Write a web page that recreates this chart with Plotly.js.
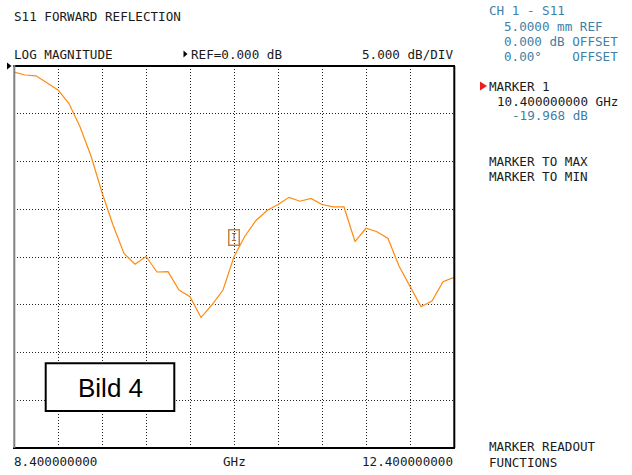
<!DOCTYPE html>
<html>
<head>
<meta charset="utf-8">
<script src="https://cdn.plot.ly/plotly-3.0.1.min.js"></script>
<style>html,body{margin:0;padding:0;background:#fff;}#chart{width:632px;height:475px;}</style>
</head>
<body>
<div id="chart"></div>
<script>
// ---- data ----
var freqGHz = [8.4, 8.5, 8.6, 8.7, 8.8, 8.9, 9.0, 9.1, 9.2, 9.3,
               9.4, 9.5, 9.6, 9.7, 9.8, 9.9, 10.0, 10.1, 10.2, 10.3,
               10.4, 10.5, 10.6, 10.7, 10.8, 10.9, 11.0, 11.1, 11.2, 11.3,
               11.4, 11.5, 11.6, 11.7, 11.8, 11.9, 12.0, 12.1, 12.2, 12.3, 12.4];
var s11dB = [-0.63, -0.94, -1.03, -1.78, -2.51, -3.93, -6.36, -9.42, -13.25, -16.65,
             -19.63, -20.76, -19.95, -21.57, -21.54, -23.46, -24.16, -26.34, -25.0, -23.46,
             -19.968, -17.8, -16.18, -15.13, -14.50, -13.75, -14.16, -13.87, -14.50, -14.76,
             -14.76, -18.38, -16.99, -17.35, -18.06, -20.94, -23.11, -25.2, -24.61, -22.59, -22.13];
var markerFreq = 10.4;
var markerDb = -19.968;
var startLabel = "8.400000000";
var stopLabel = "12.400000000";
var unitLabel = "GHz";
var headerTitle = "S11 FORWARD REFLECTION";
var formatLabel = "LOG MAGNITUDE";
var refLabel = "REF=0.000 dB";
var scaleLabel = "5.000 dB/DIV";
var chLines = ["CH 1 - S11", "5.0000 mm REF", "0.000 dB OFFSET", "0.00\u00b0\u00a0\u00a0\u00a0\u00a0OFFSET"];
var markerTitle = "MARKER 1";
var markerFreqText = "10.400000000 GHz";
var markerValText = "-19.968 dB";
var menuTop = ["MARKER TO MAX", "MARKER TO MIN"];
var menuBottom = ["MARKER READOUT", "FUNCTIONS"];
var boxLabel = "Bild 4";

// ---- layout helpers (pixel -> paper) ----
var L = 14, R = 454, T = 66, B = 448;
function px(x){ return (x - L) / (R - L); }
function py(y){ return (B - y) / (B - T); }

var mono = "DejaVu Sans Mono";
var blue = "#3f7fa6";
var ink = "#1a1a1a";

function txt(text, x, y, color, anchor, size, fam){
  return {text: text, xref: "paper", yref: "paper", x: px(x), y: py(y),
          xanchor: anchor || "left", yanchor: "middle", showarrow: false,
          borderpad: 0, font: {family: fam || mono, size: size || 12.6, color: color || ink}};
}

var annotations = [
  txt(headerTitle, 13, 16.5),
  txt(formatLabel, 13, 54),
  txt(refLabel, 190, 54),
  txt(scaleLabel, 453.5, 54, ink, "right"),
  txt(chLines[0], 487.5, 10.5, blue),
  txt(chLines[1], 502.5, 26.3, blue),
  txt(chLines[2], 502.5, 41.3, blue),
  txt(chLines[3], 502.5, 56.3, blue),
  txt(markerTitle, 487.5, 86),
  txt(markerFreqText, 495.5, 101),
  txt(markerValText, 510.5, 116, blue),
  txt(menuTop[0], 487.5, 161.5),
  txt(menuTop[1], 487.5, 176.5),
  txt(menuBottom[0], 487.5, 446.5),
  txt(menuBottom[1], 487.5, 462),
  txt(startLabel, 13, 461.5),
  txt(unitLabel, 221.5, 461.5),
  txt(stopLabel, 453.5, 461.5, ink, "right"),
  {text: boxLabel, xref: "paper", yref: "paper", x: px(110), y: py(387.5),
   xanchor: "center", yanchor: "middle", showarrow: false,
   font: {family: "Liberation Sans", size: 26, color: "#000"}},
  {text: "I", xref: "x", yref: "y", x: markerFreq, y: markerDb,
   xanchor: "center", yanchor: "bottom", yshift: 11, showarrow: false,
   bordercolor: "#c8843a", borderwidth: 1.5, borderpad: 1.5, bgcolor: "rgba(255,255,255,0)",
   font: {family: mono, size: 10, color: "#9a6a3a"}}
];

var shapes = [
  // "Bild 4" box
  {type: "rect", xref: "paper", yref: "paper", x0: px(45.7), x1: px(174.3), y0: py(411), y1: py(363.3),
   line: {color: "#000", width: 2}, fillcolor: "#fff", layer: "above"},
  // frame
  {type: "line", xref: "paper", yref: "paper", x0: px(13), x1: px(455), y0: 1, y1: 1, line: {color: "#000", width: 2}},
  {type: "line", xref: "paper", yref: "paper", x0: px(13), x1: px(455), y0: 0, y1: 0, line: {color: "#000", width: 2}},
  {type: "line", xref: "paper", yref: "paper", x0: px(454.3), x1: px(454.3), y0: 0, y1: 1, line: {color: "#000", width: 2}},
  {type: "line", xref: "paper", yref: "paper", x0: px(14.3), x1: px(14.3), y0: 0, y1: py(65), line: {color: "#808080", width: 2}},
  // reference arrow at left of top
  {type: "path", xref: "paper", yref: "paper",
   path: "M " + px(7) + "," + py(62.5) + " L " + px(11.5) + "," + py(66) + " L " + px(7) + "," + py(69.5) + " Z",
   fillcolor: "#000", line: {width: 0}},
  // arrow before REF label
  {type: "path", xref: "paper", yref: "paper",
   path: "M " + px(183.5) + "," + py(50.5) + " L " + px(187.5) + "," + py(54) + " L " + px(183.5) + "," + py(57.5) + " Z",
   fillcolor: "#000", line: {width: 0}},
  // red marker arrow
  {type: "path", xref: "paper", yref: "paper",
   path: "M " + px(480) + "," + py(81.5) + " L " + px(487) + "," + py(86) + " L " + px(480) + "," + py(90.5) + " Z",
   fillcolor: "#ee1c1c", line: {width: 0}}
];

var trace = {
  x: freqGHz, y: s11dB, type: "scatter", mode: "lines",
  line: {color: "#ff8a10", width: 1.2}, hoverinfo: "skip"
};

var layout = {
  width: 632, height: 475,
  margin: {l: L, r: 632 - R, t: T, b: 475 - B, pad: 0},
  paper_bgcolor: "#fff", plot_bgcolor: "#fff",
  showlegend: false,
  xaxis: {range: [8.4, 12.4], tick0: 8.4, dtick: 0.4, showticklabels: false, ticks: "",
          showgrid: true, gridcolor: "#222", gridwidth: 1, griddash: "1px,2px",
          zeroline: false, showline: false, fixedrange: true},
  yaxis: {range: [-40, 0], tick0: 0, dtick: 5, showticklabels: false, ticks: "",
          showgrid: true, gridcolor: "#222", gridwidth: 1, griddash: "1px,2px",
          zeroline: false, showline: false, fixedrange: true},
  annotations: annotations,
  shapes: shapes
};

Plotly.newPlot("chart", [trace], layout, {displayModeBar: false, staticPlot: true});
</script>
</body>
</html>
